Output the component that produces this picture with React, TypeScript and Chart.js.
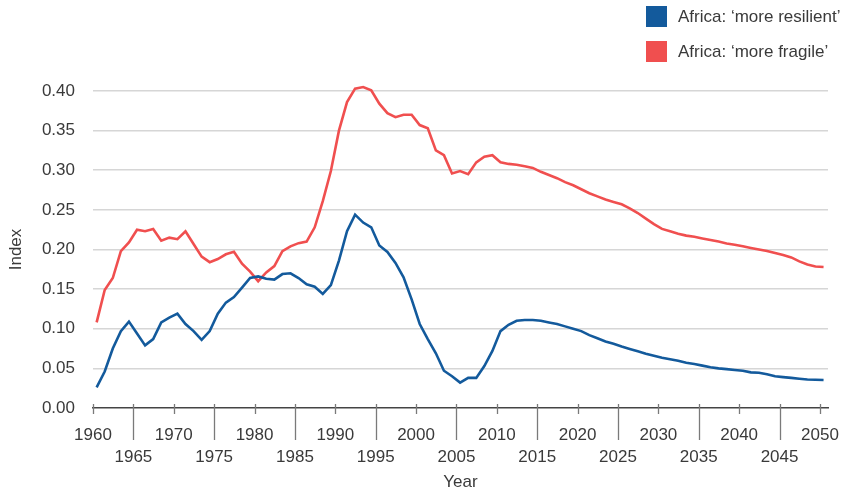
import React, { useEffect, useRef } from 'react';
import { Chart, registerables } from 'chart.js';

Chart.register(...registerables);

const years = [
  1960, 1961, 1962, 1963, 1964, 1965, 1966, 1967, 1968, 1969,
  1970, 1971, 1972, 1973, 1974, 1975, 1976, 1977, 1978, 1979,
  1980, 1981, 1982, 1983, 1984, 1985, 1986, 1987, 1988, 1989,
  1990, 1991, 1992, 1993, 1994, 1995, 1996, 1997, 1998, 1999,
  2000, 2001, 2002, 2003, 2004, 2005, 2006, 2007, 2008, 2009,
  2010, 2011, 2012, 2013, 2014, 2015, 2016, 2017, 2018, 2019,
  2020, 2021, 2022, 2023, 2024, 2025, 2026, 2027, 2028, 2029,
  2030, 2031, 2032, 2033, 2034, 2035, 2036, 2037, 2038, 2039,
  2040, 2041, 2042, 2043, 2044, 2045, 2046, 2047, 2048, 2049,
  2050,
];

const xTickValues = [
  1960, 1965, 1970, 1975, 1980, 1985, 1990, 1995, 2000, 2005,
  2010, 2015, 2020, 2025, 2030, 2035, 2040, 2045, 2050,
];

const moreResilient = [
  0.026, 0.046, 0.075, 0.097, 0.109, 0.094, 0.079, 0.087, 0.108, 0.114,
  0.119, 0.106, 0.097, 0.086, 0.097, 0.119, 0.133, 0.140, 0.152, 0.164,
  0.166, 0.163, 0.162, 0.169, 0.170, 0.164, 0.156, 0.153, 0.144, 0.155,
  0.186, 0.223, 0.244, 0.234, 0.228, 0.205, 0.197, 0.183, 0.165, 0.137,
  0.106, 0.087, 0.069, 0.047, 0.040, 0.032, 0.038, 0.038, 0.053, 0.072,
  0.097, 0.105, 0.110, 0.111, 0.111, 0.110, 0.108, 0.106, 0.103, 0.100,
  0.097, 0.092, 0.088, 0.084, 0.081, 0.0775, 0.0745, 0.0715, 0.0685, 0.066,
  0.0635, 0.0615, 0.0595, 0.057, 0.0555, 0.0535, 0.0515, 0.050, 0.049, 0.048,
  0.047, 0.045, 0.0445, 0.0425, 0.040, 0.039, 0.038, 0.037, 0.036, 0.0357,
  0.0354,
];

const moreFragile = [
  0.108, 0.149, 0.164, 0.198, 0.209, 0.225, 0.223, 0.226, 0.211, 0.215,
  0.213, 0.223, 0.207, 0.191, 0.184, 0.188, 0.194, 0.197, 0.182, 0.172,
  0.160, 0.171, 0.179, 0.198, 0.204, 0.208, 0.210, 0.228, 0.261, 0.299,
  0.350, 0.386, 0.403, 0.405, 0.401, 0.384, 0.372, 0.367, 0.370, 0.370,
  0.357, 0.353, 0.325, 0.319, 0.296, 0.299, 0.295, 0.310, 0.317, 0.319,
  0.310, 0.308, 0.307, 0.305, 0.303, 0.298, 0.294, 0.290, 0.285, 0.281,
  0.276, 0.271, 0.267, 0.263, 0.260, 0.257, 0.252, 0.246, 0.239, 0.232,
  0.226, 0.223, 0.220, 0.2175, 0.216, 0.214, 0.212, 0.210, 0.2075, 0.206,
  0.204, 0.202, 0.200, 0.198, 0.1955, 0.193, 0.190, 0.185, 0.181, 0.1785,
  0.178,
];

const seriesLabels = ['Africa: \u2018more resilient\u2019', 'Africa: \u2018more fragile\u2019'];
const seriesColors = ['#135a9c', '#f04f4f'];

const FONT = "'Liberation Sans', Arial, Helvetica, sans-serif";
const TEXT = '#3a3a3a';

const xTickMarks = {
  id: 'xTickMarks',
  afterDraw(chart: any) {
    const sx = chart.scales.x;
    const ctx = chart.ctx;
    const y0 = chart.chartArea.bottom;
    ctx.save();
    ctx.strokeStyle = '#7a7a7a';
    ctx.lineWidth = 1.3;
    sx.ticks.forEach((t: any) => {
      const px = Math.round(sx.getPixelForValue(t.value)) + 0.5;
      const long = t.value % 10 !== 0;
      ctx.beginPath();
      ctx.moveTo(px, y0 - 4);
      ctx.lineTo(px, y0 + (long ? 32 : 6));
      ctx.stroke();
    });
    ctx.restore();
  },
};

export default function App() {
  const canvasRef = useRef<HTMLCanvasElement | null>(null);

  useEffect(() => {
    document.body.style.margin = '0';
    const canvas = canvasRef.current;
    if (!canvas) return;
    const toPoints = (vals: number[]) => years.map((yr, i) => ({ x: yr + 0.45, y: vals[i] }));
    const chart = new Chart(canvas, {
      type: 'line',
      data: {
        datasets: [
          {
            label: seriesLabels[0],
            data: toPoints(moreResilient),
            borderColor: seriesColors[0],
            backgroundColor: seriesColors[0],
            borderWidth: 2.6,
            pointRadius: 0,
            tension: 0,
            clip: false,
          },
          {
            label: seriesLabels[1],
            data: toPoints(moreFragile),
            borderColor: seriesColors[1],
            backgroundColor: seriesColors[1],
            borderWidth: 2.6,
            pointRadius: 0,
            tension: 0,
            clip: false,
          },
        ],
      },
      options: {
        animation: false,
        responsive: false,
        maintainAspectRatio: false,
        layout: { padding: { top: 91, right: 19, left: 0, bottom: 0 } },
        plugins: {
          legend: { display: false },
          tooltip: { enabled: false },
        },
        scales: {
          x: {
            type: 'linear',
            min: 1960,
            max: 2051,
            bounds: 'data',
            grid: { display: false, drawTicks: false, tickLength: 0 },
            border: { display: true, color: '#444', width: 1.5 },
            afterBuildTicks: (scale: any) => {
              scale.ticks = xTickValues.map((v) => ({ value: v }));
            },
            ticks: {
              autoSkip: false,
              maxRotation: 0,
              minRotation: 0,
              padding: 16,
              color: TEXT,
              font: { family: FONT, size: 17, lineHeight: 1.3 },
              callback: (v: any) => (Number(v) % 10 === 0 ? String(v) : ['', String(v)]),
            },
            title: {
              display: true,
              text: 'Year',
              color: TEXT,
              font: { family: FONT, size: 17 },
              padding: { top: 0, bottom: -2 },
            },
            afterFit: (scale: any) => {
              scale.height = 83;
              scale.paddingRight = 0;
              scale.paddingLeft = 0;
            },
          },
          y: {
            min: 0,
            max: 0.4,
            grid: {
              drawTicks: false,
              color: (ctx: any) => (ctx.tick && Math.abs(ctx.tick.value) < 1e-9 ? 'rgba(0,0,0,0)' : '#d6d6d6'),
              lineWidth: 1.6,
            },
            border: { display: false },
            ticks: {
              stepSize: 0.05,
              padding: 18,
              color: TEXT,
              font: { family: FONT, size: 17 },
              callback: (v: any) => Number(v).toFixed(2),
            },
            title: {
              display: true,
              text: 'Index',
              color: TEXT,
              font: { family: FONT, size: 17 },
              padding: { top: 6, bottom: 0 },
            },
            afterFit: (scale: any) => {
              scale.width = 93;
              scale.paddingTop = 0;
              scale.paddingBottom = 0;
            },
          },
        },
      },
      plugins: [xTickMarks],
    } as any);
    return () => chart.destroy();
  }, []);

  return (
    <div style={{ position: 'relative', width: 847, height: 491, fontFamily: FONT }}>
      <canvas ref={canvasRef} width={847} height={491} style={{ width: 847, height: 491, display: 'block' }} />
      <div style={{ position: 'absolute', left: 646, top: 6 }}>
        {seriesLabels.map((lab, i) => (
          <div
            key={lab}
            style={{ display: 'flex', alignItems: 'center', height: 21, marginBottom: 14, whiteSpace: 'nowrap' }}
          >
            <span style={{ display: 'inline-block', width: 21, height: 21, background: seriesColors[i], marginRight: 11 }} />
            <span style={{ fontSize: 17, color: TEXT, lineHeight: '21px' }}>{lab}</span>
          </div>
        ))}
      </div>
    </div>
  );
}
